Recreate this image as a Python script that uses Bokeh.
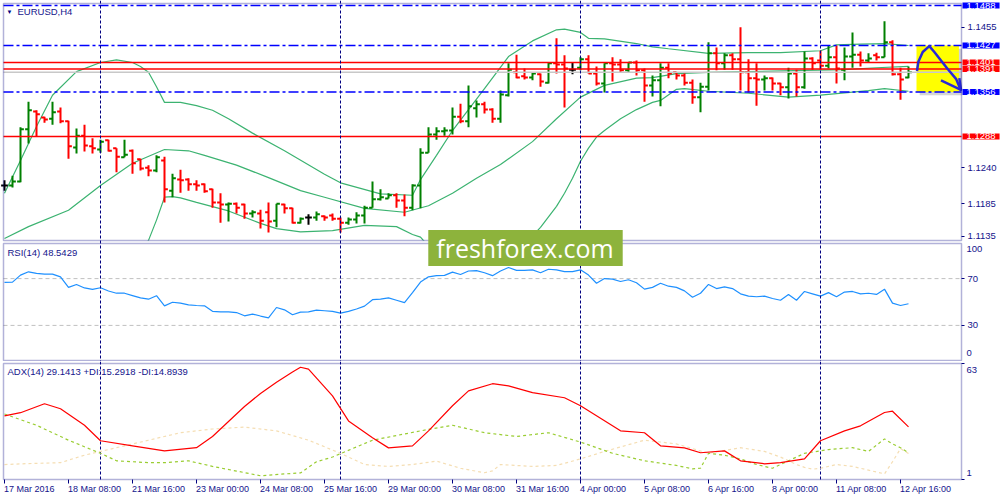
import math
from bokeh.plotting import figure
from bokeh.layouts import column
from bokeh.models import (Range1d, FixedTicker, PrintfTickFormatter, Label, Span, LinearAxis,
                          BoxAnnotation, ColumnDataSource, GlobalInlineStyleSheet)
from bokeh.embed import file_html
from bokeh.resources import INLINE

# ---------------- data ----------------
symbol_title = "EURUSD,H4"
rsi_title = "RSI(14) 48.5429"
adx_title = "ADX(14) 29.1413 +DI:15.2918 -DI:14.8939"

tick_bars = [0, 8, 16, 24, 32, 40, 48, 56, 64, 72, 80, 88, 96, 104, 112]
tick_labels = ["17 Mar 2016", "18 Mar 08:00", "21 Mar 16:00", "23 Mar 00:00", "24 Mar 08:00",
               "25 Mar 16:00", "29 Mar 00:00", "30 Mar 08:00", "31 Mar 16:00", "4 Apr 00:00",
               "5 Apr 08:00", "6 Apr 16:00", "8 Apr 00:00", "11 Apr 08:00", "12 Apr 16:00"]
week_start_bars = [12, 42, 72, 102]

opens = [1.1213, 1.1213, 1.1219, 1.1299, 1.1326, 1.1317, 1.1315, 1.1326, 1.1311, 1.1271,
         1.1289, 1.1273, 1.1268, 1.1282, 1.1270, 1.1256, 1.1266, 1.1253, 1.1240, 1.1236,
         1.1251, 1.1205, 1.1222, 1.1222, 1.1215, 1.1215, 1.1207, 1.1187, 1.1184, 1.1185,
         1.1184, 1.1170, 1.1170, 1.1172, 1.1159, 1.1184, 1.1178, 1.1156, 1.1164, 1.1164,
         1.1166, 1.1167, 1.1162, 1.1156, 1.1161, 1.1167, 1.1179, 1.1192, 1.1193, 1.1198,
         1.1190, 1.1179, 1.1213, 1.1263, 1.1291, 1.1296, 1.1297, 1.1318, 1.1311, 1.1331,
         1.1337, 1.1329, 1.1315, 1.1351, 1.1386, 1.1380, 1.1378, 1.1383, 1.1370, 1.1400,
         1.1398, 1.1390, 1.1393, 1.1406, 1.1384, 1.1369, 1.1400, 1.1398, 1.1389, 1.1401,
         1.1389, 1.1366, 1.1374, 1.1393, 1.1386, 1.1381, 1.1370, 1.1348, 1.1364, 1.1415,
         1.1400, 1.1412, 1.1406, 1.1386, 1.1377, 1.1375, 1.1377, 1.1369, 1.1363, 1.1384,
         1.1363, 1.1407, 1.1404, 1.1396, 1.1409, 1.1390, 1.1410, 1.1413, 1.1404, 1.1412,
         1.1409, 1.1432, 1.1383, 1.1378]
highs = [1.1221, 1.1228, 1.1302, 1.1341, 1.1328, 1.1318, 1.1341, 1.1332, 1.1312, 1.1300,
         1.1306, 1.1285, 1.1283, 1.1283, 1.1270, 1.1283, 1.1268, 1.1254, 1.1244, 1.1259,
         1.1257, 1.1231, 1.1237, 1.1224, 1.1221, 1.1216, 1.1208, 1.1201, 1.1187, 1.1187,
         1.1185, 1.1175, 1.1176, 1.1187, 1.1185, 1.1185, 1.1179, 1.1164, 1.1169, 1.1173,
         1.1167, 1.1170, 1.1164, 1.1164, 1.1172, 1.1182, 1.1219, 1.1207, 1.1201, 1.1201,
         1.1199, 1.1215, 1.1270, 1.1302, 1.1302, 1.1302, 1.1332, 1.1338, 1.1366, 1.1343,
         1.1341, 1.1331, 1.1358, 1.1400, 1.1413, 1.1392, 1.1386, 1.1384, 1.1401, 1.1438,
         1.1412, 1.1401, 1.1409, 1.1412, 1.1395, 1.1400, 1.1409, 1.1406, 1.1401, 1.1404,
         1.1392, 1.1381, 1.1400, 1.1400, 1.1386, 1.1384, 1.1375, 1.1370, 1.1432, 1.1424,
         1.1415, 1.1415, 1.1455, 1.1406, 1.1400, 1.1381, 1.1378, 1.1370, 1.1393, 1.1390,
         1.1418, 1.1409, 1.1419, 1.1427, 1.1427, 1.1424, 1.1447, 1.1418, 1.1415, 1.1416,
         1.1464, 1.1435, 1.1393, 1.1395]
lows = [1.1205, 1.1210, 1.1218, 1.1277, 1.1288, 1.1309, 1.1306, 1.1308, 1.1254, 1.1262,
        1.1265, 1.1262, 1.1263, 1.1265, 1.1233, 1.1256, 1.1231, 1.1236, 1.1227, 1.1233,
        1.1187, 1.1195, 1.1202, 1.1205, 1.1205, 1.1202, 1.1179, 1.1156, 1.1158, 1.1170,
        1.1162, 1.1164, 1.1147, 1.1141, 1.1149, 1.1170, 1.1155, 1.1155, 1.1153, 1.1159,
        1.1159, 1.1159, 1.1141, 1.1153, 1.1155, 1.1155, 1.1179, 1.1190, 1.1193, 1.1179,
        1.1166, 1.1175, 1.1178, 1.1263, 1.1283, 1.1289, 1.1291, 1.1308, 1.1302, 1.1317,
        1.1323, 1.1309, 1.1309, 1.1349, 1.1377, 1.1375, 1.1374, 1.1364, 1.1369, 1.1384,
        1.1332, 1.1383, 1.1389, 1.1384, 1.1366, 1.1355, 1.1372, 1.1386, 1.1386, 1.1381,
        1.1341, 1.1349, 1.1334, 1.1377, 1.1375, 1.1366, 1.1338, 1.1325, 1.1358, 1.1389,
        1.1390, 1.1390, 1.1358, 1.1355, 1.1335, 1.1358, 1.1358, 1.1351, 1.1346, 1.1349,
        1.1361, 1.1390, 1.1390, 1.1392, 1.1369, 1.1374, 1.1393, 1.1395, 1.1401, 1.1404,
        1.1409, 1.1381, 1.1344, 1.1377]
closes = [1.1213, 1.1219, 1.1299, 1.1328, 1.1322, 1.1314, 1.1325, 1.1311, 1.1273, 1.1289,
          1.1274, 1.1270, 1.1280, 1.1266, 1.1257, 1.1260, 1.1247, 1.1239, 1.1236, 1.1256,
          1.1207, 1.1224, 1.1221, 1.1215, 1.1213, 1.1204, 1.1187, 1.1184, 1.1185, 1.1179,
          1.1170, 1.1172, 1.1159, 1.1158, 1.1185, 1.1178, 1.1156, 1.1162, 1.1164, 1.1169,
          1.1164, 1.1162, 1.1156, 1.1161, 1.1167, 1.1179, 1.1192, 1.1195, 1.1198, 1.1190,
          1.1179, 1.1213, 1.1263, 1.1291, 1.1296, 1.1297, 1.1318, 1.1311, 1.1334, 1.1337,
          1.1329, 1.1315, 1.1352, 1.1390, 1.1378, 1.1378, 1.1384, 1.1372, 1.1400, 1.1398,
          1.1392, 1.1390, 1.1406, 1.1384, 1.1369, 1.1400, 1.1398, 1.1389, 1.1401, 1.1389,
          1.1366, 1.1374, 1.1393, 1.1384, 1.1381, 1.1370, 1.1348, 1.1364, 1.1415, 1.1400,
          1.1412, 1.1406, 1.1386, 1.1377, 1.1375, 1.1377, 1.1369, 1.1363, 1.1384, 1.1363,
          1.1407, 1.1400, 1.1396, 1.1409, 1.1392, 1.1410, 1.1413, 1.1404, 1.1407, 1.1409,
          1.1432, 1.1383, 1.1375, 1.1386]

bb_upper_bars = [0, 2, 4, 6, 9, 12, 14, 16, 17, 18, 19, 20, 22, 24, 26, 28, 31, 35, 40, 42,
                 47, 51, 52, 54, 56, 60, 63, 66, 69, 70, 72, 73, 75, 79, 81, 83, 88, 93, 97,
                 102, 104, 107, 110, 113]
bb_upper = [1.1201, 1.1251, 1.1303, 1.1351, 1.1387, 1.1401, 1.1405, 1.1401, 1.1395, 1.1386,
            1.1364, 1.1340, 1.1340, 1.1335, 1.1328, 1.1315, 1.1293, 1.1266, 1.1230, 1.1217,
            1.1200, 1.1198, 1.1222, 1.1259, 1.1297, 1.1361, 1.1410, 1.1434, 1.1451, 1.1452,
            1.1447, 1.1438, 1.1437, 1.1430, 1.1425, 1.1422, 1.1415, 1.1416, 1.1416, 1.1419,
            1.1428, 1.1429, 1.1430, 1.1427]
bb_mid_bars = [0, 3, 8, 12, 16, 20, 23, 25, 29, 33, 37, 40, 45, 50, 53, 56, 59, 62, 66, 69,
               72, 75, 79, 81, 84, 88, 93, 100, 105, 109, 113]
bb_mid = [1.1132, 1.1150, 1.1175, 1.1213, 1.1247, 1.1268, 1.1266, 1.1259, 1.1244, 1.1225,
          1.1205, 1.1195, 1.1178, 1.1172, 1.1182, 1.1201, 1.1224, 1.1245, 1.1280, 1.1315,
          1.1348, 1.1366, 1.1377, 1.1378, 1.1384, 1.1386, 1.1387, 1.1389, 1.1390, 1.1393,
          1.1395]
nan = float("nan")
bb_low_bars = [17, 18, 19, 20, 21, 22, 24, 28, 32, 34, 37, 41, 45, 49, 51, 52, 53, 54, 60,
               64, 65, 66, 67, 68, 69, 70, 71, 72, 73, 74, 75, 77, 79, 81, 82, 84, 85, 88,
               93, 98, 102, 108, 110, 113]
bb_low = [1.1109, 1.1129, 1.1160, 1.1195, 1.1196, 1.1194, 1.1187, 1.1174, 1.1155, 1.1147,
          1.1142, 1.1144, 1.1152, 1.1150, 1.1138, 1.1134, 1.1120, 1.1105, nan,
          1.1117, 1.1126, 1.1136, 1.1149, 1.1165, 1.1181, 1.1201, 1.1224, 1.1250, 1.1270,
          1.1287, 1.1297, 1.1315, 1.1329, 1.1340, 1.1343, 1.1360, 1.1361, 1.1357,
          1.1354, 1.1348, 1.1351, 1.1358, 1.1361, 1.1357]

rsi = [66.8, 67, 73, 75.8, 74.5, 73.8, 73.8, 71.5, 62.5, 65, 62, 60.8, 62.2, 59.4, 57.5,
       57.5, 55.5, 53.5, 52.4, 55.4, 46.7, 49.8, 49, 47.5, 47, 46.7, 42, 41.5, 41.5, 41,
       38.2, 39.7, 38, 36.5, 45.3, 43.3, 39.1, 41.4, 41.5, 43, 42.5, 42, 40.5, 42, 44,
       46.5, 52, 52.5, 53.5, 51.5, 49.5, 58, 67, 71.5, 72.5, 72.8, 75.5, 73.5, 76.5, 76.8,
       75, 72.5, 76.5, 79.5, 77, 77, 77.5, 75, 78, 77.5, 76, 76, 77.5, 73, 66, 70, 69.5,
       67.5, 69, 66.5, 61, 62.5, 66, 63.5, 62.5, 59.5, 54, 57.5, 65, 61.5, 63, 61.5, 57,
       55, 54.5, 55, 53, 51.5, 56.5, 51.5, 59, 57, 55, 58, 54.5, 58.5, 59, 57, 57.5, 56.5,
       61, 49, 47, 48.5]
rsi_levels = [30, 70]

adx_bars = [0, 2, 5, 7, 10, 12, 16, 20, 24, 26, 28, 30, 32, 34, 36, 37, 38, 41, 43, 46,
            48, 51, 53, 56, 58, 61, 63, 66, 70, 72, 75, 77, 80, 82, 85, 87, 90, 92, 95,
            97, 100, 102, 105, 107, 110, 111, 113]
adx_vals = [35, 36.7, 41.5, 38.8, 30, 21.7, 19, 16.3, 18, 24, 32, 40, 47, 53, 58.5, 61,
            60, 45.7, 32.3, 23.3, 17.9, 19, 27, 40.4, 48.4, 52.2, 51, 47.4, 44.7, 40.4,
            32.4, 27, 26, 19, 17.9, 15.3, 16.3, 11, 9.4, 10, 12, 21.7, 27, 29.7, 36.8,
            37.5, 29.1]
plus_di_bars = [0, 4, 8, 12, 14, 16, 18, 20, 23, 26, 29, 32, 35, 37, 39, 41, 46, 52, 56, 60,
                64, 68, 72, 76, 80, 84, 86, 87, 88, 90, 92, 94, 96, 98, 100, 103, 106, 108,
                110, 111, 112, 113]
plus_di = [36, 30, 22, 15, 11, 10.5, 10, 10, 11, 8, 5.5, 3, 4, 4.5, 10.5, 13, 22, 27, 30,
           26, 24, 26, 21, 15, 11, 8.5, 6.7, 7, 15, 14, 12, 9, 7, 11, 15, 17, 18, 16, 22.7,
           20, 18, 15.3]
minus_di_bars = [0, 3, 7, 10, 14, 18, 22, 26, 30, 34, 38, 42, 45, 48, 51, 54, 57, 60, 61,
                 62, 66, 69, 72, 75, 80, 84, 88, 92, 95, 97, 98, 99, 100, 101, 102, 104, 106,
                 108, 110, 111, 112, 113]
minus_di = [9, 9.5, 10, 14, 18, 22, 26, 28, 29, 27, 22, 15, 9, 8, 9, 10.8, 7, 4.6, 5.6, 9,
            8, 8.5, 12, 16, 22, 20, 15, 18, 16, 13, 11, 9, 7.5, 6.5, 7, 9, 8, 6, 4, 10.5,
            17.5, 14.9]

blue_levels = [1.1488, 1.1427, 1.1356]
red_levels = [1.1401, 1.1391, 1.1288]
price_ticks = [1.1455, 1.1240, 1.1185, 1.1135]

# hand-drawn annotation (in bar / price units)
zone_left, zone_right = 114.0, 119.3
zone_top, zone_bottom = 1.1427, 1.1356
arrow_x = [114.06, 114.23, 114.78, 115.6, 116.23, 117.06, 117.9, 118.94, 119.56]
arrow_y = [1.1388, 1.1402, 1.1417, 1.1426, 1.1417, 1.1404, 1.1391, 1.1376, 1.1358]
head_x = [117.06, 119.56, 119.35]
head_y = [1.13735, 1.13593, 1.1377]

# ---------------- style / layout ----------------
NAVY = "#000080"
TXT = "#14148C"
FONT = "Liberation Sans"
FS = "9.5px"
UP, DOWN, DOJI = "#008000", "#FF0000", "#000000"
BB = "#3CB371"

# plotting frames cover each whole canvas; the chart windows span PL..PR
xr = Range1d(-0.5, 124.5)
PL, PR = -0.125, 119.625
MAIN_TOP, MAIN_BOTTOM = 1.14912, 1.11288
RSI_TOP, RSI_BOTTOM = 100, 0
ADX_TOP, ADX_BOTTOM = 63, 1


def base_fig(h, yr):
    p = figure(width=1000, height=h, x_range=xr, y_range=yr, output_backend="svg",
               toolbar_location=None, x_axis_location=None, y_axis_location=None,
               min_border_left=0, min_border_right=0, min_border_top=0, min_border_bottom=0)
    p.grid.visible = False
    p.outline_line_color = None
    p.background_fill_color = "white"
    p.border_fill_color = "white"
    return p


def border(p, top, bottom, rng="default"):
    p.add_layout(BoxAnnotation(left=PL, right=PR, top=top, bottom=bottom, fill_color=None,
                               line_color=NAVY, line_width=1.5, y_range_name=rng))


def right_axis(p, ticks, fmt, show_labels=True, rng="default"):
    ax = LinearAxis(fixed_location=PR, ticker=FixedTicker(ticks=ticks), y_range_name=rng,
                    formatter=PrintfTickFormatter(format=fmt))
    ax.axis_line_color = None
    ax.major_tick_line_color = NAVY
    ax.major_tick_out = 3
    ax.major_tick_in = 0
    ax.minor_tick_out = 0
    ax.minor_tick_in = 0
    ax.major_label_standoff = 3
    ax.major_label_text_font = FONT
    ax.major_label_text_font_size = FS
    ax.major_label_text_color = TXT if show_labels else None
    p.add_layout(ax, "right")
    return ax


def lab(p, x, y, text, **kw):
    opts = dict(x=x, y=y, text=text, text_font=FONT, text_font_size=FS, text_color=TXT,
                text_baseline="middle", text_align="left")
    opts.update(kw)
    p.add_layout(Label(**opts))


def hlines(p, levels, **kw):
    n = len(levels)
    p.segment(x0=[PL] * n, y0=levels, x1=[PR] * n, y1=levels, **kw)


# ============ figure 1: price window + RSI window ============
p1 = base_fig(361, Range1d(1.09438, 1.14958))
p1.extra_y_ranges = {"rsi": Range1d(-0.855, 307.69)}
for b in week_start_bars:
    p1.add_layout(Span(location=b, dimension="height", line_color=NAVY,
                       line_dash="3 2", line_width=1))

# zone box under everything
p1.quad(left=[zone_left + 0.4], right=[zone_right + 0.4], top=[zone_top - 0.0005],
        bottom=[zone_bottom - 0.0005], fill_color="#888888", fill_alpha=0.35, line_color=None)
p1.quad(left=[zone_left], right=[zone_right], top=[zone_top], bottom=[zone_bottom],
        fill_color="#FFFF00", line_color=None)

p1.line(bb_upper_bars, bb_upper, line_color=BB, line_width=1.2)
p1.line(bb_mid_bars, bb_mid, line_color=BB, line_width=1.2)
p1.line(bb_low_bars, bb_low, line_color=BB, line_width=1.2)

xs = list(range(len(opens)))
cols = [UP if c > o else (DOWN if c < o else DOJI) for o, c in zip(opens, closes)]
src = ColumnDataSource(dict(x=xs, xl=[x - 0.42 for x in xs], xr=[x + 0.42 for x in xs],
                            o=opens, h=highs, l=lows, c=closes, col=cols))
p1.segment("x", "l", "x", "h", source=src, line_color="col", line_width=2)
p1.segment("xl", "o", "x", "o", source=src, line_color="col", line_width=2)
p1.segment("x", "c", "xr", "c", source=src, line_color="col", line_width=2)

hlines(p1, [closes[-1]], line_color="#C8C8C8", line_width=1.5)
hlines(p1, blue_levels, line_color="#0000FF", line_dash="10 3 3 3", line_width=1.5)
hlines(p1, red_levels, line_color="#FF0000", line_width=1.5)

p1.line(arrow_x, arrow_y, line_color="#2828D8", line_width=2.5, line_join="round")
p1.line(head_x, head_y, line_color="#2828D8", line_width=2.5, line_join="round")

# white background of the RSI window (hides the price window's overflow)
p1.quad(left=[PL], right=[PR + 0.2], top=[MAIN_BOTTOM], bottom=[p1.y_range.start],
        fill_color="white", line_color=None)

# RSI window
hlines(p1, rsi_levels, line_color="#C0C0C0", line_dash="4 3", line_width=1, y_range_name="rsi")
p1.line(xs, rsi, line_color="#1E90FF", line_width=1.2, y_range_name="rsi")

border(p1, MAIN_TOP, MAIN_BOTTOM)
border(p1, RSI_TOP, RSI_BOTTOM, "rsi")
right_axis(p1, price_ticks, "%.4f")
right_axis(p1, rsi_levels, "%d", rng="rsi")

# price boxes on the axis
box_pad = dict(left=4, right=4, top=0, bottom=0)
for lv, colr in [(blue_levels[0], "#0000FF"), (blue_levels[1], "#0000FF"),
                 (red_levels[0], "#FF0000"), (red_levels[1], "#FF0000"),
                 (blue_levels[2], "#0000FF"), (red_levels[2], "#FF0000")]:
    lab(p1, PR, lv, f"{lv:.4f}", x_offset=1, text_color="white",
        background_fill_color=colr, padding=box_pad)

lab(p1, PL, MAIN_TOP, "\u25BC", x_offset=3, y_offset=-8, text_font_size="6px",
    text_color=NAVY)
lab(p1, PL, MAIN_TOP, symbol_title, x_offset=14, y_offset=-8)
lab(p1, PL, RSI_TOP, rsi_title, x_offset=4, y_offset=-9, y_range_name="rsi")
lab(p1, PR, RSI_TOP, "100", x_offset=5, y_offset=-6, y_range_name="rsi")
lab(p1, PR, RSI_BOTTOM, "0", x_offset=5, y_offset=7, y_range_name="rsi")

# logo watermark across both windows
lab(p1, 65.125, RSI_TOP, "freshforex.com", y_range_name="rsi", y_offset=-4.5,
    text_font="Open Sans", text_font_size="25px", text_color="white",
    text_align="center", text_baseline="middle", background_fill_color="#8DB33C",
    padding=dict(left=8, right=9, top=1, bottom=1))

# ============ figure 2: ADX window + time axis ============
p3 = base_fig(139, Range1d(-10.224, 64.069))
nb = len(week_start_bars)
p3.segment(x0=week_start_bars, y0=[ADX_BOTTOM] * nb, x1=week_start_bars,
           y1=[p3.y_range.end] * nb, line_color=NAVY, line_dash="3 2", line_width=1)
p3.line(minus_di_bars, minus_di, line_color="#F5DEB3", line_width=1.2, line_dash="3 3")
p3.line(plus_di_bars, plus_di, line_color="#9ACD32", line_width=1.2, line_dash="3 3")
p3.line(adx_bars, adx_vals, line_color="#FF0000", line_width=1.2)
border(p3, ADX_TOP, ADX_BOTTOM)
right_axis(p3, [ADX_BOTTOM, ADX_TOP], "%d", show_labels=False)

xa = LinearAxis(fixed_location=ADX_BOTTOM, ticker=FixedTicker(ticks=tick_bars))
xa.axis_line_color = None
xa.major_label_text_color = None
xa.major_tick_line_color = NAVY
xa.major_tick_out = 4
xa.major_tick_in = 0
xa.minor_tick_out = 0
xa.minor_tick_in = 0
p3.add_layout(xa, "below")

lab(p3, PL, ADX_TOP, adx_title, x_offset=4, y_offset=-8)
lab(p3, PR, ADX_TOP, "63", x_offset=5, y_offset=-6)
lab(p3, PR, ADX_BOTTOM, "1", x_offset=5, y_offset=7)
for b, t in zip(tick_bars, tick_labels):
    lab(p3, b, ADX_BOTTOM, t, x_offset=-0.5, y_offset=-4, text_baseline="top",
        text_font_size="9px")

layout = column(p1, p3, spacing=0)
layout.stylesheets = [GlobalInlineStyleSheet(css="html, body { margin: 0 !important; padding: 0; }")]

open("out.html", "w").write(file_html(layout, INLINE))
